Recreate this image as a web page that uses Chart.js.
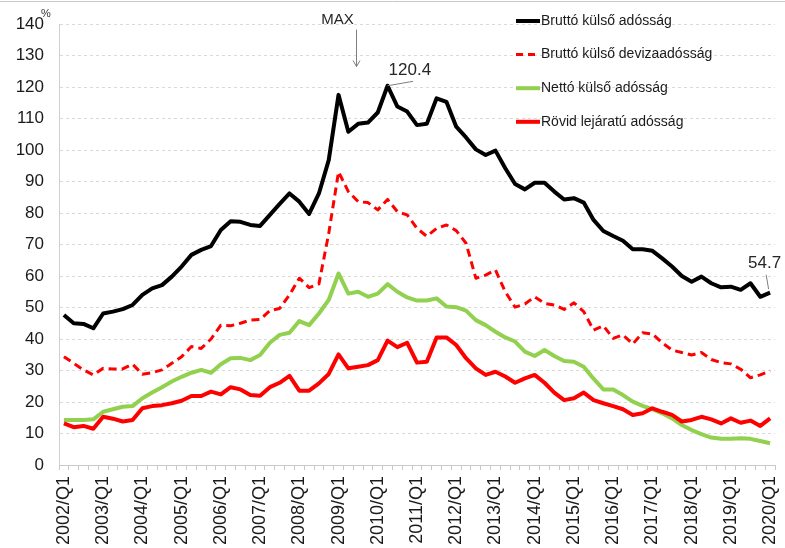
<!DOCTYPE html>
<html><head><meta charset="utf-8">
<script src="https://cdn.jsdelivr.net/npm/chart.js@4/dist/chart.umd.min.js"></script>
<style>html,body{margin:0;padding:0;background:#fff;} canvas{display:block;}</style>
</head><body>
<canvas id="c" width="785" height="548"></canvas>
<script>
const FONT = '"Liberation Sans", Arial, sans-serif';

// Categories: quarterly, 2002/Q1 ... 2020/Q1
const years = [2002,2003,2004,2005,2006,2007,2008,2009,2010,2011,2012,2013,2014,2015,2016,2017,2018,2019];
const quarters = ['Q1','Q2','Q3','Q4'];
const categories = [];
years.forEach(yr => quarters.forEach(q => categories.push(yr + '/' + q)));
categories.push('2020/Q1');

const seriesNames = ['Bruttó külső adósság', 'Bruttó külső devizaadósság', 'Nettó külső adósság', 'Rövid lejáratú adósság'];

const grossExternalDebt = [
  47.6,45.0,44.8,43.4, 48.1,48.7,49.5,50.8, 54.0,56.1,57.1,59.8, 63.0,66.7,68.3,69.5,
  74.6,77.4,77.2,76.2, 75.9,79.4,82.9,86.2, 83.6,79.7,86.2,96.8, 117.5,105.8,108.3,108.7,
  111.9,120.4,113.8,112.2, 107.9,108.3,116.4,115.3, 107.4,104.0,100.2,98.4, 99.8,94.2,89.2,87.5,
  89.6,89.6,86.8,84.3, 84.7,83.3,77.8,74.3, 72.7,71.2,68.5,68.5, 68.0,65.6,63.0,60.0,
  58.2,59.8,57.7,56.4, 56.6,55.6,57.7,53.4, 54.7
];
const grossFxDebt = [
  34.4,32.3,30.2,28.6, 30.7,30.5,30.5,32.0, 28.8,29.3,30.2,32.3, 34.4,37.6,37.0,40.0,
  44.4,44.2,45.0,46.0, 46.2,49.0,49.7,54.0, 59.3,56.3,57.5,73.5, 93.1,86.8,83.6,83.3,
  81.0,84.3,80.4,79.4, 75.1,72.6,75.1,76.2, 74.4,70.4,59.3,60.3, 61.9,55.0,50.1,51.1,
  53.4,51.3,50.8,49.4, 51.5,48.7,42.8,44.2, 40.2,41.3,38.4,42.0, 41.6,38.8,36.5,35.7,
  34.9,35.7,33.5,32.5, 32.1,30.4,27.7,28.6, 29.9
];
const netExternalDebt = [
  14.3,14.3,14.3,14.5, 16.9,17.7,18.5,18.7, 21.2,23.0,24.7,26.5, 28.0,29.3,30.2,29.3,
  32.0,33.9,34.0,33.3, 34.9,38.8,41.3,42.0, 45.7,44.4,48.1,52.4, 60.8,54.4,55.0,53.4,
  54.4,57.4,55.0,53.2, 52.2,52.2,52.9,50.3, 50.1,49.0,46.0,44.4, 42.3,40.5,39.2,36.0,
  34.6,36.5,34.6,33.0, 32.8,31.2,27.4,24.0, 24.0,22.2,20.1,18.8, 17.7,16.4,14.8,12.7,
  11.1,9.8,8.7,8.3, 8.3,8.5,8.3,7.6, 6.9
];
const shortTermDebt = [
  13.2,12.0,12.4,11.5, 15.3,14.7,13.8,14.3, 18.0,18.7,19.0,19.6, 20.4,21.9,21.9,23.3,
  22.4,24.7,24.0,22.2, 22.0,24.7,26.1,28.3, 23.6,23.6,25.9,28.9, 35.1,30.7,31.2,31.7,
  33.3,39.5,37.4,38.8, 32.5,32.8,40.5,40.5, 38.1,33.9,30.7,28.6, 29.6,28.1,26.1,27.5,
  28.6,26.1,23.0,20.6, 21.2,23.0,20.6,19.6, 18.7,17.7,15.9,16.4, 18.0,16.9,15.9,13.8,
  14.3,15.3,14.5,13.2, 14.8,13.4,14.1,12.4, 14.8
];

const yMin = 0, yMax = 140, yStep = 10;

// Annotations (in data coordinates: category index, value)
const maxNote = {text: 'MAX', textAt: [27.9, 141.2], arrowFrom: [29.8, 138.2], arrowTo: [29.8, 126.5]};
const peakNote = {text: '120.4', textAt: [33.1, 125.2], leaderFrom: [33.0, 120.4], leaderTo: [35.6, 121.8]};
const lastNote = {text: '54.7', textAt: [69.75, 64.1], leaderFrom: [71.6, 60.4], leaderTo: [71.85, 55.8]};

const styles = [
  {color: '#000000', width: 4, dash: []},
  {color: '#ff0000', width: 3, dash: [8, 5]},
  {color: '#92d050', width: 4, dash: []},
  {color: '#ff0000', width: 4, dash: []}
];
const seriesData = [grossExternalDebt, grossFxDebt, netExternalDebt, shortTermDebt];

const decor = {
  id: 'decor',
  afterDraw(chart) {
    const {ctx} = chart;
    const xs = chart.scales.x, ys = chart.scales.y;
    const P = (pt) => [xs.getPixelForValue(pt[0]), ys.getPixelForValue(pt[1])];
    ctx.save();
    // top frame line
    ctx.strokeStyle = '#c8c8c8'; ctx.lineWidth = 1;
    ctx.beginPath(); ctx.moveTo(0, 1.5); ctx.lineTo(785, 1.5); ctx.stroke();
    // unit
    ctx.fillStyle = '#333'; ctx.font = '11px ' + FONT;
    ctx.textAlign = 'left'; ctx.textBaseline = 'middle';
    ctx.fillText('%', 41, 14);
    // legend
    ctx.font = '14px ' + FONT;
    seriesNames.forEach((name, i) => {
      const yy = 21 + i * 33.6;
      const s = styles[i];
      ctx.strokeStyle = s.color; ctx.lineWidth = s.width;
      ctx.setLineDash(s.dash.length ? [7, 5] : []);
      ctx.beginPath(); ctx.moveTo(516, yy); ctx.lineTo(540, yy); ctx.stroke();
      ctx.setLineDash([]);
      ctx.fillStyle = '#1a1a1a';
      ctx.fillText(name, 541, yy);
    });
    // MAX arrow
    ctx.strokeStyle = '#7f7f7f'; ctx.lineWidth = 1;
    const a0 = P(maxNote.arrowFrom), a1 = P(maxNote.arrowTo);
    const ax = Math.round(a0[0]) + 0.5;
    ctx.beginPath(); ctx.moveTo(ax, a0[1]); ctx.lineTo(ax, a1[1]); ctx.stroke();
    ctx.beginPath(); ctx.moveTo(ax - 3.5, a1[1] - 6); ctx.lineTo(ax, a1[1]); ctx.lineTo(ax + 3.5, a1[1] - 6); ctx.stroke();
    ctx.fillStyle = '#262626'; ctx.font = '15px ' + FONT; ctx.textAlign = 'center';
    const mt = P(maxNote.textAt);
    ctx.fillText(maxNote.text, mt[0], mt[1]);
    // value labels
    ctx.font = '17px ' + FONT; ctx.textAlign = 'left';
    [peakNote, lastNote].forEach(n => {
      const f = P(n.leaderFrom), t = P(n.leaderTo);
      ctx.beginPath(); ctx.moveTo(f[0], f[1]); ctx.lineTo(t[0], t[1]); ctx.stroke();
      const tp = P(n.textAt);
      ctx.fillText(n.text, tp[0], tp[1]);
    });
    ctx.restore();
  }
};

new Chart(document.getElementById('c'), {
  type: 'line',
  data: {
    labels: categories,
    datasets: seriesData.map((d, i) => ({
      label: seriesNames[i],
      data: d,
      borderColor: styles[i].color,
      backgroundColor: styles[i].color,
      borderWidth: styles[i].width,
      borderDash: styles[i].dash,
      pointRadius: 0,
      tension: 0,
      fill: false,
      order: 3 - i,
      borderJoinStyle: 'round',
      borderCapStyle: 'butt'
    }))
  },
  options: {
    responsive: false,
    animation: false,
    layout: {padding: {top: 24, right: 10, left: 0, bottom: 0}},
    plugins: {legend: {display: false}, tooltip: {enabled: false}},
    scales: {
      x: {
        type: 'category',
        offset: true,
        grid: {display: true, drawOnChartArea: false, drawTicks: true, tickLength: 5, color: '#c8c8c8', offset: true},
        border: {display: true, color: '#c8c8c8', width: 1},
        ticks: {
          autoSkip: false, maxRotation: 90, minRotation: 90, padding: 6,
          color: '#1a1a1a', font: {family: FONT, size: 18},
          callback: (v, idx) => (idx % 4 === 0 ? categories[idx] : '')
        },
        afterFit: s => { s.height = 83; s.paddingLeft = 0; s.paddingRight = 0; }
      },
      y: {
        min: yMin, max: yMax,
        ticks: {stepSize: yStep, padding: 15, color: '#1a1a1a', font: {family: FONT, size: 17}},
        grid: {drawTicks: false, color: ctx => (ctx.tick && ctx.tick.value === 0 ? 'rgba(0,0,0,0)' : '#d9d9d9'), lineWidth: 1},
        border: {display: true, color: '#d0d0d0', dash: [3, 3]},
        afterFit: s => { s.width = 59; s.paddingTop = 0; s.paddingBottom = 0; }
      }
    }
  },
  plugins: [decor]
});
</script>
</body></html>
